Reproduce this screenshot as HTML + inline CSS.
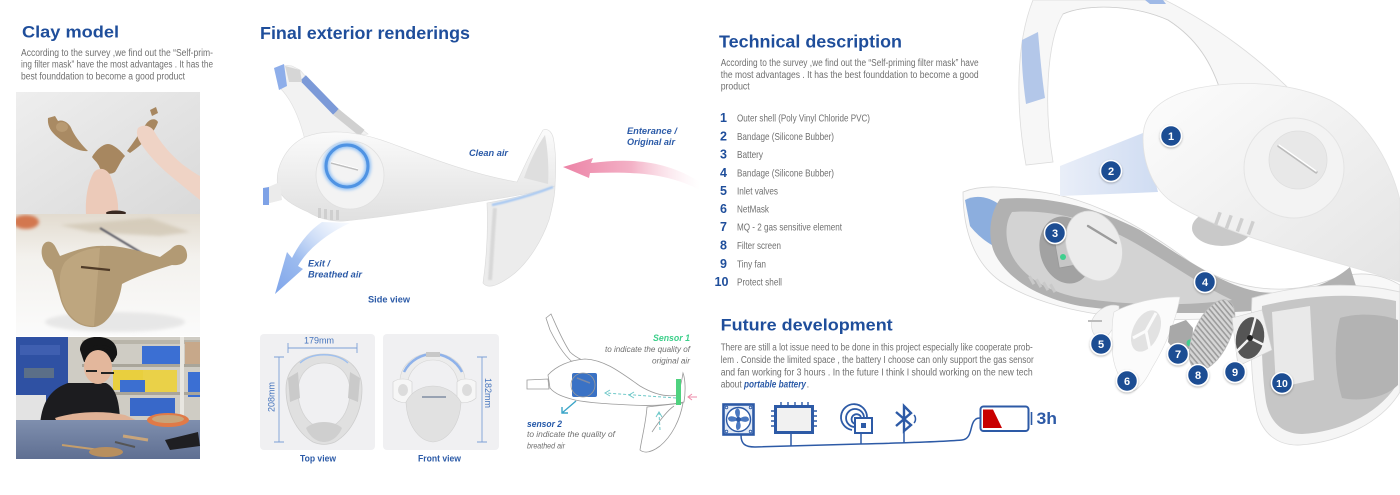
<!DOCTYPE html>
<html><head><meta charset="utf-8">
<style>
html,body{margin:0;padding:0;background:#fff;width:1400px;height:495px;overflow:hidden;}
svg{display:block;}
text{font-family:"Liberation Sans",Arial,sans-serif;}
</style></head><body>
<svg width="1400" height="495" viewBox="0 0 1400 495" xmlns="http://www.w3.org/2000/svg">
<defs>
  <linearGradient id="gBody" x1="0" y1="0" x2="0" y2="1">
    <stop offset="0" stop-color="#fbfbfb"/><stop offset="1" stop-color="#e0e0e0"/>
  </linearGradient>
  <linearGradient id="gShell" x1="0" y1="0" x2="1" y2="1">
    <stop offset="0" stop-color="#fdfdfd"/><stop offset="1" stop-color="#e4e4e4"/>
  </linearGradient>
  <linearGradient id="gExit" x1="1" y1="0" x2="0" y2="1">
    <stop offset="0" stop-color="#dbe7fa" stop-opacity="0.2"/><stop offset="0.6" stop-color="#9dbcef"/><stop offset="1" stop-color="#7fa5ea"/>
  </linearGradient>
  <linearGradient id="gEnter" x1="0" y1="0" x2="1" y2="0">
    <stop offset="0" stop-color="#ec83a6"/><stop offset="0.5" stop-color="#f3b1c6"/><stop offset="1" stop-color="#fbe3eb" stop-opacity="0"/>
  </linearGradient>
  <linearGradient id="gP1" x1="0" y1="0" x2="1" y2="1">
    <stop offset="0" stop-color="#eeeeee"/><stop offset="1" stop-color="#d9d9d9"/>
  </linearGradient>
  <linearGradient id="gP2" x1="0" y1="0" x2="0" y2="1">
    <stop offset="0" stop-color="#e2dbcf"/><stop offset="0.35" stop-color="#f3f1ed"/><stop offset="1" stop-color="#fbfbfb"/>
  </linearGradient>
  <linearGradient id="gTable" x1="0" y1="0" x2="0" y2="1">
    <stop offset="0" stop-color="#7f8fae"/><stop offset="1" stop-color="#5f6f92"/>
  </linearGradient>
  <linearGradient id="gBand2" x1="0" y1="0" x2="1" y2="0">
    <stop offset="0" stop-color="#e9eef8"/><stop offset="1" stop-color="#cfdcf2"/>
  </linearGradient>
  <filter id="blur2" x="-50%" y="-50%" width="200%" height="200%"><feGaussianBlur stdDeviation="1.6"/></filter>
  <filter id="blur1" x="-50%" y="-50%" width="200%" height="200%"><feGaussianBlur stdDeviation="0.8"/></filter>
  <filter id="sh" x="-50%" y="-50%" width="200%" height="200%"><feDropShadow dx="0" dy="1" stdDeviation="1" flood-color="#000" flood-opacity="0.3"/></filter>
  <pattern id="stripe" width="4" height="4" patternUnits="userSpaceOnUse" patternTransform="rotate(25)">
    <rect width="4" height="4" fill="#d6d6d6"/><rect width="4" height="1.6" fill="#9c9c9c"/>
  </pattern>
  <clipPath id="c1"><rect x="16" y="92" width="184" height="122"/></clipPath>
  <clipPath id="c2"><rect x="16" y="214" width="184" height="122"/></clipPath>
  <clipPath id="c3"><rect x="16" y="337" width="184" height="122"/></clipPath>
</defs>

<!-- ============ LEFT COLUMN ============ -->
<text x="22" y="37.5" font-size="17" font-weight="bold" fill="#1f4e9b" textLength="97" lengthAdjust="spacingAndGlyphs">Clay model</text>
<g font-size="10" fill="#707070">
  <text x="21" y="56" textLength="192" lengthAdjust="spacingAndGlyphs">According to the survey ,we find out the “Self-prim-</text>
  <text x="21" y="67.7" textLength="192" lengthAdjust="spacingAndGlyphs">ing filter mask” have the most advantages . It has the</text>
  <text x="21" y="79.3" textLength="164" lengthAdjust="spacingAndGlyphs">best founddation to become a good product</text>
</g>

<!-- photo 1 -->
<g clip-path="url(#c1)">
  <rect x="16" y="92" width="184" height="122" fill="url(#gP1)"/>
  <path d="M48,118 L55,116 L58,121 C64,119 70,124 72,130 C76,138 82,145 88,151 C80,152 70,147 61,140 C53,134 47,128 48,118 Z" fill="#a98a63"/>
  <ellipse cx="62" cy="127" rx="6" ry="5" fill="#b89a72"/>
  <path d="M92,157 C96,150 103,144 108,144 C113,144 120,150 125,156 C121,160 119,166 115,172 C109,176 101,173 99,166 C97,162 94,160 92,157 Z" fill="#a78760"/>
  <path d="M127,151 C134,142 140,132 146,124 C150,118 156,118 158,122 C155,131 146,142 130,153 Z" fill="#a78760"/>
  <path d="M150,110 L156,107 L158,113 L152,116 Z" fill="#a78760"/>
  <path d="M86,214 C85,198 88,182 94,172 C100,166 108,169 111,177 C115,188 119,200 118,214 Z" fill="#eccab9"/>
  <path d="M138,128 C143,124 150,125 154,131 C160,142 170,154 182,164 C190,170 196,174 200,176 L200,200 C190,192 178,182 166,172 C156,163 146,152 140,142 C137,137 136,132 138,128 Z" fill="#efd3c5"/>
  <ellipse cx="116" cy="213" rx="10" ry="2.5" fill="#3a2a22"/>
</g>

<!-- photo 2 -->
<g clip-path="url(#c2)">
  <rect x="16" y="214" width="184" height="122" fill="url(#gP2)"/>
  <ellipse cx="26" cy="222" rx="13" ry="7" fill="#d3774f" filter="url(#blur2)"/>
  <path d="M60,225 L150,218 L190,232 L160,236 L90,232 Z" fill="#cfc4b0" opacity="0.7" filter="url(#blur2)"/>
  <path d="M100,228 L150,258" stroke="#5d5d66" stroke-width="2" filter="url(#blur1)"/>
  <ellipse cx="115" cy="322" rx="70" ry="10" fill="#dcdcdc" opacity="0.6" filter="url(#blur2)"/>
  <path d="M42,248 C44,240 52,239 56,248 L60,256 C78,249 92,245 105,246 C118,245 140,251 160,257 L171,249 C177,242 186,244 187,254 C188,262 181,266 172,265 C152,271 133,278 122,284 C119,305 109,324 95,327 C80,328 67,319 61,301 C58,290 55,280 52,270 C46,266 40,258 42,248 Z" fill="#b29a74"/>
  <path d="M65,262 C75,252 90,248 100,248 C98,270 96,300 94,326 C80,326 68,318 62,300 C59,288 58,272 65,262 Z" fill="#c3ab85" opacity="0.7"/>
  <path d="M81,267 L110,270" stroke="#4f3b28" stroke-width="2.2"/>
</g>

<!-- photo 3 -->
<g clip-path="url(#c3)">
  <rect x="16" y="337" width="184" height="122" fill="#cfccc4"/>
  <rect x="16" y="337" width="52" height="64" fill="#2f51a3"/>
  <rect x="20" y="345" width="40" height="10" fill="#3f5fb0"/>
  <rect x="24" y="368" width="30" height="10" fill="#5b6f88"/>
  <rect x="16" y="395" width="30" height="30" fill="#e3e3e3"/>
  <rect x="82" y="340" width="118" height="4" fill="#b9b5aa"/>
  <rect x="142" y="346" width="38" height="18" fill="#3b6fd3"/>
  <rect x="185" y="342" width="15" height="22" fill="#c7a88a"/>
  <rect x="82" y="364" width="118" height="3" fill="#a9a59a"/>
  <rect x="113" y="370" width="30" height="20" fill="#e9cf3e"/>
  <rect x="143" y="370" width="34" height="22" fill="#ead148"/>
  <rect x="120" y="380" width="25" height="12" fill="#3c6fd0"/>
  <rect x="188" y="372" width="12" height="25" fill="#3b6fd3"/>
  <rect x="82" y="392" width="118" height="3" fill="#a9a59a"/>
  <rect x="130" y="398" width="45" height="18" fill="#3868c9"/>
  <rect x="180" y="336" width="4" height="80" fill="#e8e6e0"/>
  <path d="M40,425 C42,398 54,388 68,383 L106,383 C116,388 120,402 120,425 Z" fill="#1c1c1f"/>
  <path d="M80,350 C80,340 90,336 100,337 C112,338 118,345 117,355 L113,362 L84,362 Z" fill="#151515"/>
  <ellipse cx="98" cy="367" rx="14" ry="17" fill="#e3b79c"/>
  <path d="M85,358 C86,350 92,345 100,345 C110,345 116,350 116,358 L112,352 C106,347 92,347 88,355 Z" fill="#151515"/>
  <path d="M86,371 L97,371 M101,373 L114,373" stroke="#222" stroke-width="2"/>
  <path d="M55,418 C75,412 100,410 125,415 L140,422 L135,428 L60,428 Z" fill="#e0b296"/>
  <rect x="16" y="420" width="184" height="39" fill="url(#gTable)"/>
  <ellipse cx="168" cy="420" rx="21" ry="7" fill="#e07a47"/>
  <ellipse cx="168" cy="419" rx="16" ry="4" fill="#c9a57a"/>
  <path d="M165,440 L198,432 L200,446 L170,450 Z" fill="#1f1f22"/>
  <path d="M62,445 L115,452" stroke="#c59e6b" stroke-width="2"/>
  <ellipse cx="106" cy="452" rx="17" ry="5" fill="#b88f5e"/>
  <path d="M123,436 L148,440" stroke="#c9a57a" stroke-width="3"/>
  <path d="M115,442 L135,447" stroke="#555" stroke-width="2"/>
</g>

<!-- ============ SIDE VIEW ============ -->
<text x="260" y="39" font-size="17.5" font-weight="bold" fill="#1f4e9b" textLength="210" lengthAdjust="spacingAndGlyphs">Final exterior renderings</text>

<!-- strap -->
<path d="M276,72 C280,66 286,64 292,66 L300,70 C315,88 340,112 368,134 L305,140 C300,120 292,100 280,88 Z" fill="#f2f2f2" stroke="#e0e0e0" stroke-width="0.6"/>
<path d="M303,78 L336,112" stroke="#7c9ad8" stroke-width="8" stroke-linecap="butt"/>
<path d="M336,112 L362,133" stroke="#d0d0d0" stroke-width="8"/>
<path d="M285,66 L300,70 L302,82 L289,82 Z" fill="#d6d6d6"/>
<path d="M274,68 L284,64 L287,86 L279,90 Z" fill="#8eaeea"/>

<!-- main body -->
<path d="M278,188 C274,168 286,146 305,137 C325,129 355,130 390,143 C425,156 470,174 517,182 C525,165 534,145 543,130 C549,128 553,133 554,142 C556,155 556,172 555,186 C540,193 500,198 470,203 C430,210 390,216 345,221 C330,222 318,218 308,212 C292,205 281,198 278,188 Z" fill="url(#gBody)" stroke="#dcdcdc" stroke-width="0.6"/>
<path d="M280,182 L266,188 L266,204 L282,200 Z" fill="#ebebeb"/>
<path d="M263,188 L269,187 L269,205 L263,205 Z" fill="#7ea2e6"/>
<path d="M524,178 C530,160 538,145 545,135 C548,150 549,170 548,184 Z" fill="#dedede"/>
<!-- chin -->
<path d="M487,203 C488,225 487,255 483,283 C488,290 500,285 515,273 C530,260 542,240 549,220 C553,205 555,195 555,186 C535,193 510,199 487,203 Z" fill="#ececec" stroke="#dadada" stroke-width="0.6"/>
<path d="M492,205 C510,201 535,194 553,187" stroke="#a9c9f2" stroke-width="2.5" fill="none" filter="url(#blur1)"/>
<path d="M495,208 C493,230 492,255 490,280" stroke="#d8d8d8" stroke-width="4" fill="none" filter="url(#blur1)"/>
<!-- cap -->
<circle cx="350" cy="175" r="34" fill="#f3f3f3" stroke="#e0e0e0" stroke-width="0.8"/>
<circle cx="347" cy="166" r="21" fill="none" stroke="#8fc0f5" stroke-width="6" filter="url(#blur2)"/>
<circle cx="347" cy="166" r="21" fill="none" stroke="#4f93e3" stroke-width="3"/>
<path d="M331,163 L358,170" stroke="#bdbdbd" stroke-width="1.6"/>
<path d="M331,161.8 L358,168.8" stroke="#fff" stroke-width="1"/>
<g fill="#cfcfcf"><rect x="318" y="208" width="3" height="10"/><rect x="324" y="209" width="3" height="10"/><rect x="330" y="210" width="3" height="10"/><rect x="336" y="210" width="3" height="10"/></g>
<!-- exit arrow -->
<path d="M322,222 L350,223 C330,232 308,248 298,266 L303,269 L275,294 L287,252 L292,258 C300,242 310,230 322,222 Z" fill="url(#gExit)"/>
<!-- enter arrow -->
<path d="M563,167 L593,158 L591,163 C630,158 665,160 700,182 L700,190 C665,172 630,172 590,173 L589,178 Z" fill="url(#gEnter)"/>

<g font-size="9" font-weight="bold" font-style="italic" fill="#2b5aa7">
  <text x="469" y="156" textLength="39" lengthAdjust="spacingAndGlyphs">Clean air</text>
  <text x="627" y="134" textLength="50" lengthAdjust="spacingAndGlyphs">Enterance /</text>
  <text x="627" y="145" textLength="48" lengthAdjust="spacingAndGlyphs">Original air</text>
  <text x="308" y="266.5" textLength="22" lengthAdjust="spacingAndGlyphs">Exit /</text>
  <text x="308" y="277.5" textLength="54" lengthAdjust="spacingAndGlyphs">Breathed air</text>
</g>
<g font-size="9" font-weight="bold" fill="#2b5aa7">
  <text x="368" y="302.5" textLength="42" lengthAdjust="spacingAndGlyphs">Side view</text>
  <text x="300" y="461.5" textLength="36" lengthAdjust="spacingAndGlyphs">Top view</text>
  <text x="418" y="461.5" textLength="43" lengthAdjust="spacingAndGlyphs">Front view</text>
</g>

<!-- ============ TOP / FRONT VIEW ============ -->
<rect x="260" y="334" width="115" height="116" rx="4" fill="#f0f0f2"/>
<rect x="383" y="334" width="116" height="116" rx="4" fill="#f0f0f2"/>
<g stroke="#7c9fd6" stroke-width="0.9" fill="none">
  <path d="M288,348 L357,348 M288,343 L288,353 M357,343 L357,353"/>
  <path d="M279,357 L279,442 M274,357 L284,357 M274,442 L284,442"/>
  <path d="M482,357 L482,442 M477,357 L487,357 M477,442 L487,442"/>
</g>
<g font-size="9" fill="#4574bd">
  <text x="304" y="343.5" textLength="30" lengthAdjust="spacingAndGlyphs">179mm</text>
  <text transform="translate(274.5,412) rotate(-90)" textLength="30" lengthAdjust="spacingAndGlyphs">208mm</text>
  <text transform="translate(485,378) rotate(90)" textLength="30" lengthAdjust="spacingAndGlyphs">182mm</text>
</g>
<path d="M324,354 C346,354 362,368 362,389 C362,411 352,432 335,442 C328,445 320,445 313,442 C296,432 286,411 286,389 C286,368 302,354 324,354 Z" fill="#e0e0e0" stroke="#cdcdcd" stroke-width="0.8"/>
<path d="M324,363 C339,363 350,374 350,391 C350,408 343,420 333,426 C327,429 321,429 315,426 C305,420 298,408 298,391 C298,374 309,363 324,363 Z" fill="#f0f0f2" stroke="#d2d2d2" stroke-width="0.8"/>
<path d="M300,363 C312,352 336,352 348,363" stroke="#9fc0ef" stroke-width="1.5" fill="none"/>
<path d="M288,378 L298,372 L300,398 L290,402 Z" fill="#cacaca"/>
<path d="M360,378 L350,372 L348,398 L358,402 Z" fill="#cacaca"/>
<path d="M306,428 C314,420 334,420 342,428 C338,438 330,442 324,442 C318,442 310,438 306,428 Z" fill="#cfcfcf"/>
<!-- front view mask -->
<path d="M400,386 C398,366 414,353 433,353 C452,353 467,366 465,386 L458,386 C458,371 447,360 433,360 C419,360 408,371 407,386 Z" fill="#ececec" stroke="#d5d5d5" stroke-width="0.6"/>
<path d="M404,372 C410,360 422,354 433,354 C444,354 456,360 462,372" stroke="#8fb2ea" stroke-width="2.5" fill="none"/>
<rect x="426" y="352" width="14" height="5" fill="#c8c8c8"/>
<path d="M393,382 C398,378 408,378 412,382 L412,402 C405,404 397,402 393,398 Z" fill="#f6f6f6" stroke="#d0d0d0" stroke-width="0.6"/>
<ellipse cx="403" cy="390" rx="5" ry="6" fill="#dcdcdc"/>
<path d="M476,382 C471,378 461,378 457,382 L457,402 C464,404 472,402 476,398 Z" fill="#f6f6f6" stroke="#d0d0d0" stroke-width="0.6"/>
<ellipse cx="467" cy="390" rx="5" ry="6" fill="#dcdcdc"/>
<path d="M406,402 C412,390 424,386 433,386 C442,386 454,390 461,402 C460,424 448,441 433,442 C418,441 407,424 406,402 Z" fill="#e1e1e1" stroke="#d0d0d0" stroke-width="0.6"/>
<path d="M398,401 L468,401" stroke="#a8c7f2" stroke-width="2" filter="url(#blur1)"/>
<path d="M422,397 L446,397" stroke="#6c7c96" stroke-width="1.3"/>

<!-- ============ SENSOR DIAGRAM ============ -->
<g fill="#fff" stroke="#9a9a9a" stroke-width="0.8">
  <path d="M546,318 L551,314 C556,325 562,340 570,352 C574,356 578,358 582,360 L575,364 C566,358 558,346 550,330 Z"/>
  <path d="M548,375 C556,366 570,360 585,359 C605,360 620,372 640,386 C655,395 668,397 678,395 C680,388 682,380 683,373 C685,378 686,390 684,402 C670,405 650,406 630,405 C610,404 590,403 575,400 C563,397 555,394 550,388 Z"/>
  <path d="M527,380 L548,379 L549,389 L527,389 Z"/>
  <path d="M647,407 C646,422 642,437 640,450 C645,454 652,452 660,446 C672,436 680,420 683,403 Z"/>
  <path d="M652,432 C660,420 668,410 674,406" fill="none"/>
</g>
<rect x="572" y="373" width="25" height="24" rx="2" fill="#3a72c5"/>
<circle cx="583" cy="385" r="12" fill="none" stroke="#9a9a9a" stroke-width="0.8"/>
<path d="M577,378 L590,383" stroke="#7c8aa6" stroke-width="1.5"/>
<rect x="676" y="379" width="5" height="26" fill="#4fd27f"/>
<g stroke="#6ec8c8" stroke-width="1" fill="none" stroke-dasharray="3,2">
  <path d="M676,398 L606,393"/>
  <path d="M660,430 L659,413"/>
</g>
<g stroke="#6ec8c8" stroke-width="1" fill="none">
  <path d="M610,390 L605,393 L610,396"/>
  <path d="M634,392 L629,395 L634,398"/>
  <path d="M656,417 L659,412 L662,417"/>
</g>
<path d="M697,397 L688,397 M692,394 L688,397 L692,400" stroke="#ee8aa8" stroke-width="1" fill="none"/>
<path d="M576,401 L562,413 M562,407 L562,413 L568,413" stroke="#3ba5c8" stroke-width="1.4" fill="none"/>
<text x="690" y="341" text-anchor="end" font-size="9" font-weight="bold" font-style="italic" fill="#3ccf8a" textLength="37" lengthAdjust="spacingAndGlyphs">Sensor 1</text>
<g font-size="8.6" font-style="italic" fill="#6f6f6f">
  <text x="690" y="352" text-anchor="end" textLength="85" lengthAdjust="spacingAndGlyphs">to indicate the quality of</text>
  <text x="690" y="363.5" text-anchor="end" textLength="38" lengthAdjust="spacingAndGlyphs">original air</text>
  <text x="527" y="437" textLength="88" lengthAdjust="spacingAndGlyphs">to indicate the quality of</text>
  <text x="527" y="448.5" textLength="38" lengthAdjust="spacingAndGlyphs">breathed air</text>
</g>
<text x="527" y="427" font-size="9" font-weight="bold" font-style="italic" fill="#2458a8" textLength="35" lengthAdjust="spacingAndGlyphs">sensor 2</text>

<!-- ============ TECHNICAL DESCRIPTION ============ -->
<text x="719" y="47.7" font-size="17.5" font-weight="bold" fill="#1f4e9b" textLength="183" lengthAdjust="spacingAndGlyphs">Technical description</text>
<g font-size="10" fill="#707070">
  <text x="720.7" y="66" textLength="258" lengthAdjust="spacingAndGlyphs">According to the survey ,we find out the “Self-priming filter mask” have</text>
  <text x="720.7" y="78" textLength="258" lengthAdjust="spacingAndGlyphs">the most advantages . It has the best founddation to become a good</text>
  <text x="720.7" y="89.5" textLength="29" lengthAdjust="spacingAndGlyphs">product</text>
</g>
<g font-size="12.5" font-weight="bold" fill="#1f4e9b" text-anchor="end">
  <text x="727" y="122">1</text><text x="727" y="140.5">2</text><text x="727" y="158.7">3</text>
  <text x="727" y="177">4</text><text x="727" y="195">5</text><text x="727" y="213">6</text>
  <text x="727" y="231">7</text><text x="727" y="249.5">8</text><text x="727" y="268">9</text>
  <text x="728.5" y="286" textLength="14" lengthAdjust="spacingAndGlyphs">10</text>
</g>
<g font-size="10.2" fill="#707070">
  <text x="737" y="121.5" textLength="133" lengthAdjust="spacingAndGlyphs">Outer shell (Poly Vinyl Chloride PVC)</text>
  <text x="737" y="140" textLength="97" lengthAdjust="spacingAndGlyphs">Bandage (Silicone Bubber)</text>
  <text x="737" y="158" textLength="26" lengthAdjust="spacingAndGlyphs">Battery</text>
  <text x="737" y="176.5" textLength="97" lengthAdjust="spacingAndGlyphs">Bandage (Silicone Bubber)</text>
  <text x="737" y="194.5" textLength="41" lengthAdjust="spacingAndGlyphs">Inlet valves</text>
  <text x="737" y="212.5" textLength="32" lengthAdjust="spacingAndGlyphs">NetMask</text>
  <text x="737" y="230.5" textLength="105" lengthAdjust="spacingAndGlyphs">MQ - 2 gas sensitive element</text>
  <text x="737" y="249" textLength="44" lengthAdjust="spacingAndGlyphs">Filter screen</text>
  <text x="737" y="267.5" textLength="29" lengthAdjust="spacingAndGlyphs">Tiny fan</text>
  <text x="737" y="285.5" textLength="45" lengthAdjust="spacingAndGlyphs">Protect shell</text>
</g>

<!-- ============ FUTURE DEVELOPMENT ============ -->
<text x="720.7" y="330.7" font-size="17" font-weight="bold" fill="#1f4e9b" textLength="172" lengthAdjust="spacingAndGlyphs">Future development</text>
<g font-size="10" fill="#707070">
  <text x="720.7" y="350.7" textLength="312" lengthAdjust="spacingAndGlyphs">There are still a lot issue need to be done in this project especially like cooperate prob-</text>
  <text x="720.7" y="363" textLength="313" lengthAdjust="spacingAndGlyphs">lem . Conside the limited space , the battery I choose can only support the gas sensor</text>
  <text x="720.7" y="375.3" textLength="312" lengthAdjust="spacingAndGlyphs">and fan working for 3 hours .  In the future I  think I should working on the new tech</text>
  <text x="720.7" y="387.5" textLength="21" lengthAdjust="spacingAndGlyphs">about</text>
  <text x="806.5" y="387.5">.</text>
</g>
<text x="744" y="387.5" font-size="10" font-weight="bold" font-style="italic" fill="#2b5aa7" textLength="62" lengthAdjust="spacingAndGlyphs">portable battery</text>

<!-- icons -->
<g stroke="#2d5aa6" fill="none">
  <rect x="723.5" y="404.5" width="30" height="30" fill="#e3ebf7" stroke-width="2.6"/>
  <circle cx="738.5" cy="419.5" r="12" fill="#fff" stroke-width="1.4"/>
  <g fill="#4a78c0" stroke="none">
    <path d="M738.5,419.5 C734,414 734,409 738,408.5 C741,410 740,415 738.5,419.5 Z"/>
    <path d="M738.5,419.5 C744,415 749,416 749,420 C747,423 742,422 738.5,419.5 Z"/>
    <path d="M738.5,419.5 C742,425 741,430 737,430 C735,427 736,423 738.5,419.5 Z"/>
    <path d="M738.5,419.5 C733,423 728,422 728,418 C730,415 735,416 738.5,419.5 Z"/>
  </g>
  <circle cx="738.5" cy="419.5" r="2.5" fill="#2d5aa6" stroke="none"/>
  <circle cx="726.5" cy="407.5" r="1.3" stroke-width="0.8"/><circle cx="750.5" cy="407.5" r="1.3" stroke-width="0.8"/>
  <circle cx="726.5" cy="431.5" r="1.3" stroke-width="0.8"/><circle cx="750.5" cy="431.5" r="1.3" stroke-width="0.8"/>
  <rect x="775.5" y="406.5" width="37" height="26" fill="#f1f1f1" stroke-width="3"/>
  <g stroke-width="1.4">
    <path d="M771,411 L775,411 M771,416 L775,416 M771,421 L775,421 M771,426 L775,426"/>
    <path d="M813,411 L817,411 M813,416 L817,416 M813,421 L817,421 M813,426 L817,426"/>
    <path d="M781,402 L781,406 M788,402 L788,406 M795,402 L795,406 M802,402 L802,406 M808,402 L808,406"/>
  </g>
  <g stroke-width="1.8">
    <path d="M852,430 A13,13 0 1 1 867,417"/>
    <path d="M855,427 A9,9 0 1 1 864,417"/>
    <path d="M858,424 A5,5 0 1 1 861,417"/>
  </g>
  <rect x="855" y="418" width="17" height="15" fill="#fff" stroke-width="2"/>
  <rect x="861" y="423" width="5" height="5" fill="#2d5aa6" stroke="none"/>
  <path d="M896,412 L911,425 L904,431 L904,406 L911,413 L896,426" stroke-width="2.4"/>
  <path d="M914,415 C916,417 916,421 914,423" stroke-width="1.5"/>
  <rect x="980.5" y="406.5" width="48" height="24.5" rx="3" fill="#fff" stroke-width="2"/>
  <path d="M1031.5,412 L1031.5,425" stroke-width="1.6"/>
  <path d="M741,435 C741,444 745,447 755,447 L860,444 C900,443 940,442 962,440 C972,439 970,426 974,421 C976,418 978,418 981,418" stroke-width="1.5"/>
  <path d="M791,433 L791,446 M861,433 L861,444 M904,432 L904,443" stroke-width="1.5"/>
</g>
<path d="M983,409.5 L993,409.5 L1002,428 L983,428 Z" fill="#c90000"/>
<text x="1036.5" y="424" font-size="17" font-weight="bold" fill="#2d5aa6" textLength="20.5" lengthAdjust="spacingAndGlyphs">3h</text>

<!-- ============ EXPLODED VIEW ============ -->
<path d="M1026,165 C1016,110 1015,45 1033,0 L1165,0 C1215,25 1262,60 1300,100 L1222,96 C1212,62 1196,38 1168,20 C1132,4 1085,4 1063,14 C1046,42 1044,110 1053,162 Z" fill="#f7f7f7" stroke="#dcdcdc" stroke-width="0.8"/>
<path d="M1022,40 L1038,32 C1040,55 1042,78 1045,98 L1026,104 C1023,82 1021,60 1022,40 Z" fill="#b3c7e9"/>
<path d="M1145,0 L1163,0 L1166,4 L1150,4 Z" fill="#9fb9e6"/>
<path d="M1063,14 C1085,4 1132,4 1168,20 C1196,38 1212,62 1222,96" stroke="#cfcfcf" stroke-width="0.8" fill="none"/>

<path d="M963,192 C985,183 1012,188 1042,192 C1092,199 1142,226 1190,262 C1230,288 1280,298 1330,280 C1362,268 1385,276 1400,285 L1400,300 C1370,302 1340,305 1300,310 C1258,317 1200,321 1150,319 C1080,316 1030,301 1000,281 C975,263 963,232 963,192 Z" fill="#f8f8f8" stroke="#d6d6d6" stroke-width="0.8"/>
<path d="M965,200 C976,194 990,197 1000,205 L1003,250 C990,246 978,236 970,226 Z" fill="#8caede"/>
<path d="M1000,199 C1040,195 1090,204 1140,230 C1180,255 1220,285 1260,292 C1300,296 1330,284 1350,267 L1356,286 C1330,301 1290,307 1250,311 C1200,315 1130,313 1080,306 C1040,298 1010,281 996,256 C987,240 989,214 1000,199 Z" fill="#b1b1b1"/>
<path d="M1012,212 C1050,209 1095,220 1135,243 C1170,263 1200,285 1232,300 C1180,307 1120,305 1075,297 C1040,289 1018,271 1010,251 C1005,238 1005,222 1012,212 Z" fill="#d3d3d3"/>
<ellipse cx="1066" cy="250" rx="26" ry="34" transform="rotate(-15 1066 250)" fill="#a2a2a2"/>
<rect x="1056" y="230" width="26" height="36" fill="#c7c7c7" stroke="#999" stroke-width="0.8" transform="rotate(-10 1069 248)"/>
<g fill="#c9c9c9"><rect x="1030" y="276" width="3" height="9" transform="rotate(-30 1031 280)"/><rect x="1037" y="279" width="3" height="9" transform="rotate(-30 1038 283)"/><rect x="1044" y="282" width="3" height="9" transform="rotate(-30 1045 286)"/><rect x="1051" y="284" width="3" height="9" transform="rotate(-30 1052 288)"/></g>
<circle cx="1063" cy="257" r="3" fill="#3fcf8e"/>

<ellipse cx="1222" cy="228" rx="30" ry="18" fill="#c9c9c9"/>
<path d="M1060,166 L1143,133 L1158,192 L1060,196 Z" fill="url(#gBand2)"/>
<path d="M1143,138 C1143,112 1162,96 1198,88 C1240,80 1290,82 1330,100 C1366,120 1390,160 1400,200 L1400,282 C1372,272 1332,262 1292,250 C1242,236 1202,221 1172,202 C1152,188 1143,162 1143,138 Z" fill="url(#gShell)" stroke="#e2e2e2" stroke-width="0.8"/>
<circle cx="1294" cy="168" r="50" fill="#f3f3f3" stroke="#e4e4e4" stroke-width="1"/>
<circle cx="1298" cy="160" r="29" fill="#e8e8e8" stroke="#dedede" stroke-width="0.8"/>
<path d="M1279,146 L1316,172" stroke="#bbbbbb" stroke-width="3.2" stroke-linecap="round"/>
<path d="M1279,145 L1316,171" stroke="#fff" stroke-width="1.6" stroke-linecap="round"/>
<g fill="#cfcfcf">
  <rect x="1216" y="212" width="3.5" height="14" transform="rotate(20 1218 219)"/>
  <rect x="1227" y="215" width="3.5" height="14" transform="rotate(20 1229 222)"/>
  <rect x="1238" y="218" width="3.5" height="14" transform="rotate(20 1240 225)"/>
  <rect x="1249" y="221" width="3.5" height="14" transform="rotate(20 1251 228)"/>
</g>

<ellipse cx="1094" cy="246" rx="27" ry="36" transform="rotate(-22 1094 246)" fill="#ececec" stroke="#d6d6d6" stroke-width="0.8"/>
<path d="M1088,226 L1116,243" stroke="#9c9c9c" stroke-width="2.4" stroke-linecap="round"/>

<path d="M1252,298 C1298,285 1350,280 1400,292 L1400,392 C1382,422 1342,442 1300,445 C1276,446 1262,432 1257,412 C1251,382 1250,340 1252,298 Z" fill="#f5f5f5" stroke="#dadada" stroke-width="0.8"/>
<path d="M1262,306 C1306,295 1356,292 1396,301 L1396,386 C1376,416 1338,432 1302,434 C1282,434 1270,422 1266,402 C1262,375 1261,340 1262,306 Z" fill="#c6c6c6"/>
<path d="M1272,312 L1310,306 L1314,380 L1276,388 Z" fill="#e9e9e9"/>
<path d="M1340,318 C1360,312 1385,315 1398,320 L1398,385 C1385,398 1360,402 1342,398 C1334,372 1334,340 1340,318 Z" fill="#b3b3b3"/>

<path d="M1092,320 C1098,308 1110,303 1119,306 C1120,318 1112,334 1102,340 C1094,338 1090,330 1092,320 Z" fill="#f4f4f4" stroke="#d6d6d6" stroke-width="0.6"/>
<path d="M1088,321 L1102,321" stroke="#bcbcbc" stroke-width="2"/>
<path d="M1114,312 C1130,303 1160,296 1180,297 C1176,320 1166,345 1152,368 C1146,380 1140,388 1134,391 C1120,385 1112,365 1112,345 C1112,330 1112,320 1114,312 Z" fill="#fbfbfb" stroke="#dcdcdc" stroke-width="0.6"/>
<ellipse cx="1146" cy="331" rx="13" ry="22" transform="rotate(25 1146 331)" fill="#e2e2e2"/>
<path d="M1146,331 L1156,313 M1146,331 L1133,338 M1146,331 L1150,350" stroke="#fbfbfb" stroke-width="3"/>
<path d="M1170,326 L1186,320 L1193,328 L1192,348 L1176,352 L1168,342 Z" fill="#a8a8a8"/>
<circle cx="1190" cy="343" r="3.5" fill="#3fcf8e"/>
<ellipse cx="1212" cy="335" rx="18" ry="38" transform="rotate(25 1212 335)" fill="url(#stripe)" stroke="#bdbdbd" stroke-width="0.8"/>
<path d="M1232,318 L1262,310 L1272,350 L1238,366 Z" fill="#f0f0f0" stroke="#d2d2d2" stroke-width="0.6"/>
<ellipse cx="1250" cy="338" rx="14" ry="21" transform="rotate(10 1250 338)" fill="#555"/>
<path d="M1250,338 L1256,316 M1250,338 L1266,346 M1250,338 L1236,352" stroke="#f2f2f2" stroke-width="2.4"/>
<circle cx="1250" cy="338" r="3" fill="#222"/>

<g filter="url(#sh)">
  <g fill="#1f4d93" stroke="#fff" stroke-width="1.5">
    <circle cx="1171" cy="136" r="10.5"/><circle cx="1111" cy="171" r="10.5"/><circle cx="1055" cy="233" r="10.5"/>
    <circle cx="1205" cy="282" r="10.5"/><circle cx="1101" cy="344" r="10.5"/><circle cx="1127" cy="381" r="10.5"/>
    <circle cx="1178" cy="354" r="10.5"/><circle cx="1198" cy="375" r="10.5"/><circle cx="1235" cy="372" r="10.5"/>
    <circle cx="1282" cy="383" r="10.5"/>
  </g>
</g>
<g font-size="11" font-weight="bold" fill="#fff" text-anchor="middle">
  <text x="1171" y="140">1</text><text x="1111" y="175">2</text><text x="1055" y="237">3</text>
  <text x="1205" y="286">4</text><text x="1101" y="348">5</text><text x="1127" y="385">6</text>
  <text x="1178" y="358">7</text><text x="1198" y="379">8</text><text x="1235" y="376">9</text>
  <text x="1282" y="387" font-size="10.5">10</text>
</g>
</svg>
</body></html>
